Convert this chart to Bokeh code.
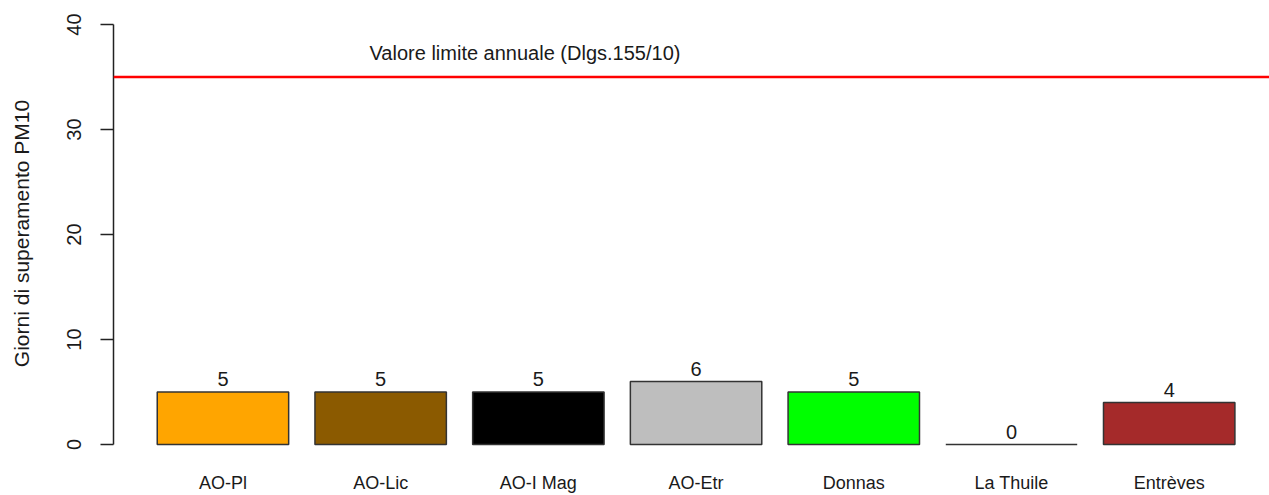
import numpy as np
from bokeh.plotting import figure
from bokeh.models import (Range1d, LinearAxis, FixedTicker, Span, ColumnDataSource, Label)
from bokeh.embed import file_html
from bokeh.resources import INLINE

# ---- data ----
categories = ["AO-Pl", "AO-Lic", "AO-I Mag", "AO-Etr", "Donnas", "La Thuile", "Entrèves"]
days = [5, 5, 5, 6, 5, 0, 4]
bar_colors = ["#FFA500", "#8B5A00", "#000000", "#BEBEBE", "#00FF00", "#1E90FF", "#A52A2A"]
y_ticks = [0, 10, 20, 30, 40]
limit_value = 35
limit_text = "Valore limite annuale (Dlgs.155/10)"
y_title = "Giorni di superamento PM10"

FONT = "Liberation Sans"
TXT = "#1a1a1a"

x = np.arange(len(categories))
src = ColumnDataSource(dict(
    x=x, top=days, color=bar_colors,
    label=[str(d) for d in days],
    label_y=[d + 1.2 for d in days],
))

p = figure(width=1269, height=495,
           x_range=Range1d(-0.694, 6.636), y_range=Range1d(-2.095, 42.286),
           output_backend="svg", toolbar_location=None,
           x_axis_type=None, y_axis_type=None,
           min_border_left=113, min_border_right=0,
           min_border_top=0, min_border_bottom=29)
p.outline_line_color = None
p.background_fill_color = "white"
p.border_fill_color = "white"

# bars
p.vbar(x="x", top="top", bottom=0, width=1 / 1.2, fill_color="color",
       line_color="#333333", line_width=1.5, source=src)

# limit line
p.add_layout(Span(location=limit_value, dimension="width", line_color="#FF0000",
                  line_width=2.5))
p.add_layout(Label(x=1.915, y=37.25, text=limit_text, text_align="center",
                   text_baseline="middle", text_font=FONT, text_font_size="20px",
                   text_color=TXT))

# value labels
p.text(x="x", y="label_y", text="label", source=src, text_align="center",
       text_baseline="middle", text_font_size="20px", text_color=TXT,
       text_font={"value": FONT})

# x axis: category names only
xaxis = LinearAxis(ticker=FixedTicker(ticks=list(x)),
                   major_label_overrides={int(i): c for i, c in zip(x, categories)})
xaxis.axis_line_color = None
xaxis.major_tick_line_color = None
xaxis.minor_tick_line_color = None
xaxis.major_tick_out = 0
xaxis.major_tick_in = 0
xaxis.major_label_standoff = 6
xaxis.major_label_text_font = FONT
xaxis.major_label_text_font_size = "18px"
xaxis.major_label_text_color = TXT
p.add_layout(xaxis, "below")

# y axis
yaxis = LinearAxis(ticker=FixedTicker(ticks=y_ticks), bounds=(0, 40),
                   axis_label=y_title)
yaxis.major_label_orientation = "vertical"
yaxis.major_tick_out = 13
yaxis.major_tick_in = 0
yaxis.minor_tick_line_color = None
yaxis.axis_line_width = 1.5
yaxis.axis_line_color = "#222222"
yaxis.major_tick_line_width = 1.5
yaxis.major_tick_line_color = "#222222"
yaxis.major_label_text_font = FONT
yaxis.major_label_text_font_size = "20px"
yaxis.major_label_text_color = TXT
yaxis.major_label_standoff = 19
yaxis.axis_label_text_font = FONT
yaxis.axis_label_text_font_size = "21px"
yaxis.axis_label_text_font_style = "normal"
yaxis.axis_label_text_color = TXT
yaxis.axis_label_standoff = 32
p.add_layout(yaxis, "left")

open("out.html", "w").write(file_html(p, INLINE))
